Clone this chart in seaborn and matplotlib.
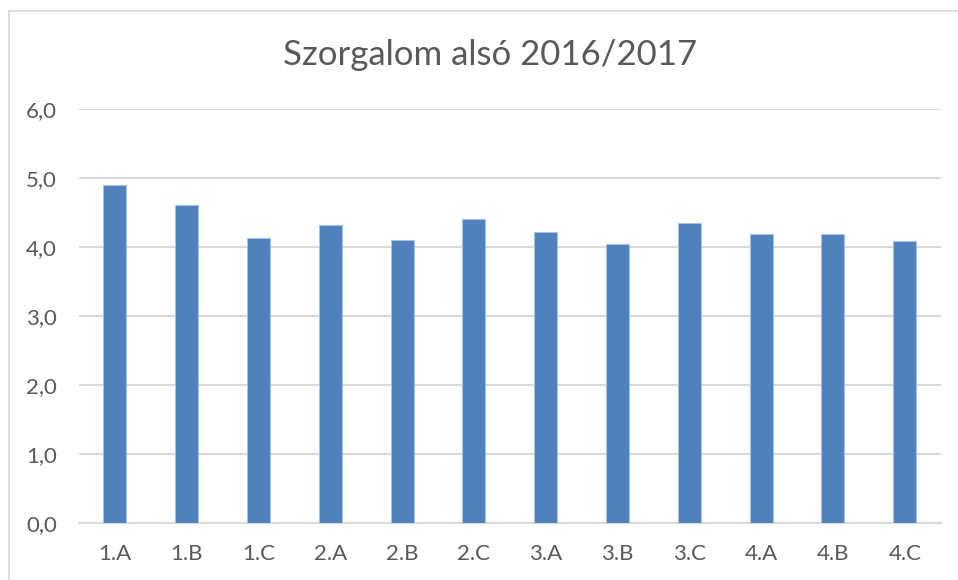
import matplotlib
matplotlib.use("Agg")
import matplotlib.pyplot as plt
import seaborn as sns
import pandas as pd
from matplotlib.patches import Rectangle
from matplotlib.ticker import FuncFormatter

classes = ["1.A", "1.B", "1.C", "2.A", "2.B", "2.C", "3.A", "3.B", "3.C", "4.A", "4.B", "4.C"]
values = [4.90, 4.61, 4.13, 4.33, 4.10, 4.41, 4.22, 4.05, 4.35, 4.20, 4.19, 4.09]
title = "Szorgalom alsó 2016/2017"

df = pd.DataFrame({"osztaly": classes, "ertek": values})

sns.set_theme(style="white")
plt.rcParams["font.family"] = ["Lato", "DejaVu Sans"]

W, H = 958, 580
fig = plt.figure(figsize=(W / 100, H / 100), dpi=100)
ax = fig.add_axes([79 / W, 1 - 523.3 / H, (940.7 - 79) / W, (523.3 - 109.3) / H])

sns.barplot(data=df, x="osztaly", y="ertek", color="#4F81BD", saturation=1,
            width=0.32, edgecolor="#A9C1E0", linewidth=0.8, ax=ax, zorder=3)

ax.set_ylim(0, 6)
ax.set_xlim(-0.5, len(classes) - 0.5)
ax.set_yticks(range(0, 7))
ax.yaxis.set_major_formatter(FuncFormatter(lambda v, p: f"{v:.1f}".replace(".", ",")))
ax.grid(axis="y", color="#D9D9D9", linewidth=1.5, zorder=0)
ax.grid(axis="x", visible=False)
for s in ["top", "right", "left"]:
    ax.spines[s].set_visible(False)
ax.spines["bottom"].set_color("#D9D9D9")
ax.spines["bottom"].set_linewidth(1.5)
ax.set_xlabel("")
ax.set_ylabel("")
ax.tick_params(axis="both", length=0, colors="#595959", labelsize=16)
ax.tick_params(axis="y", pad=16)
ax.tick_params(axis="x", pad=15)

fig.text(490 / W, 1 - 55 / H, title, ha="center", va="center",
         fontsize=25, color="#595959")

fig.patches.append(Rectangle((9 / W, -0.05), 1.2, 1 - 11 / H + 0.05, transform=fig.transFigure,
                             fill=False, edgecolor="#D9D9D9", linewidth=1.2))

fig.savefig("out.png", dpi=100, facecolor="white")
